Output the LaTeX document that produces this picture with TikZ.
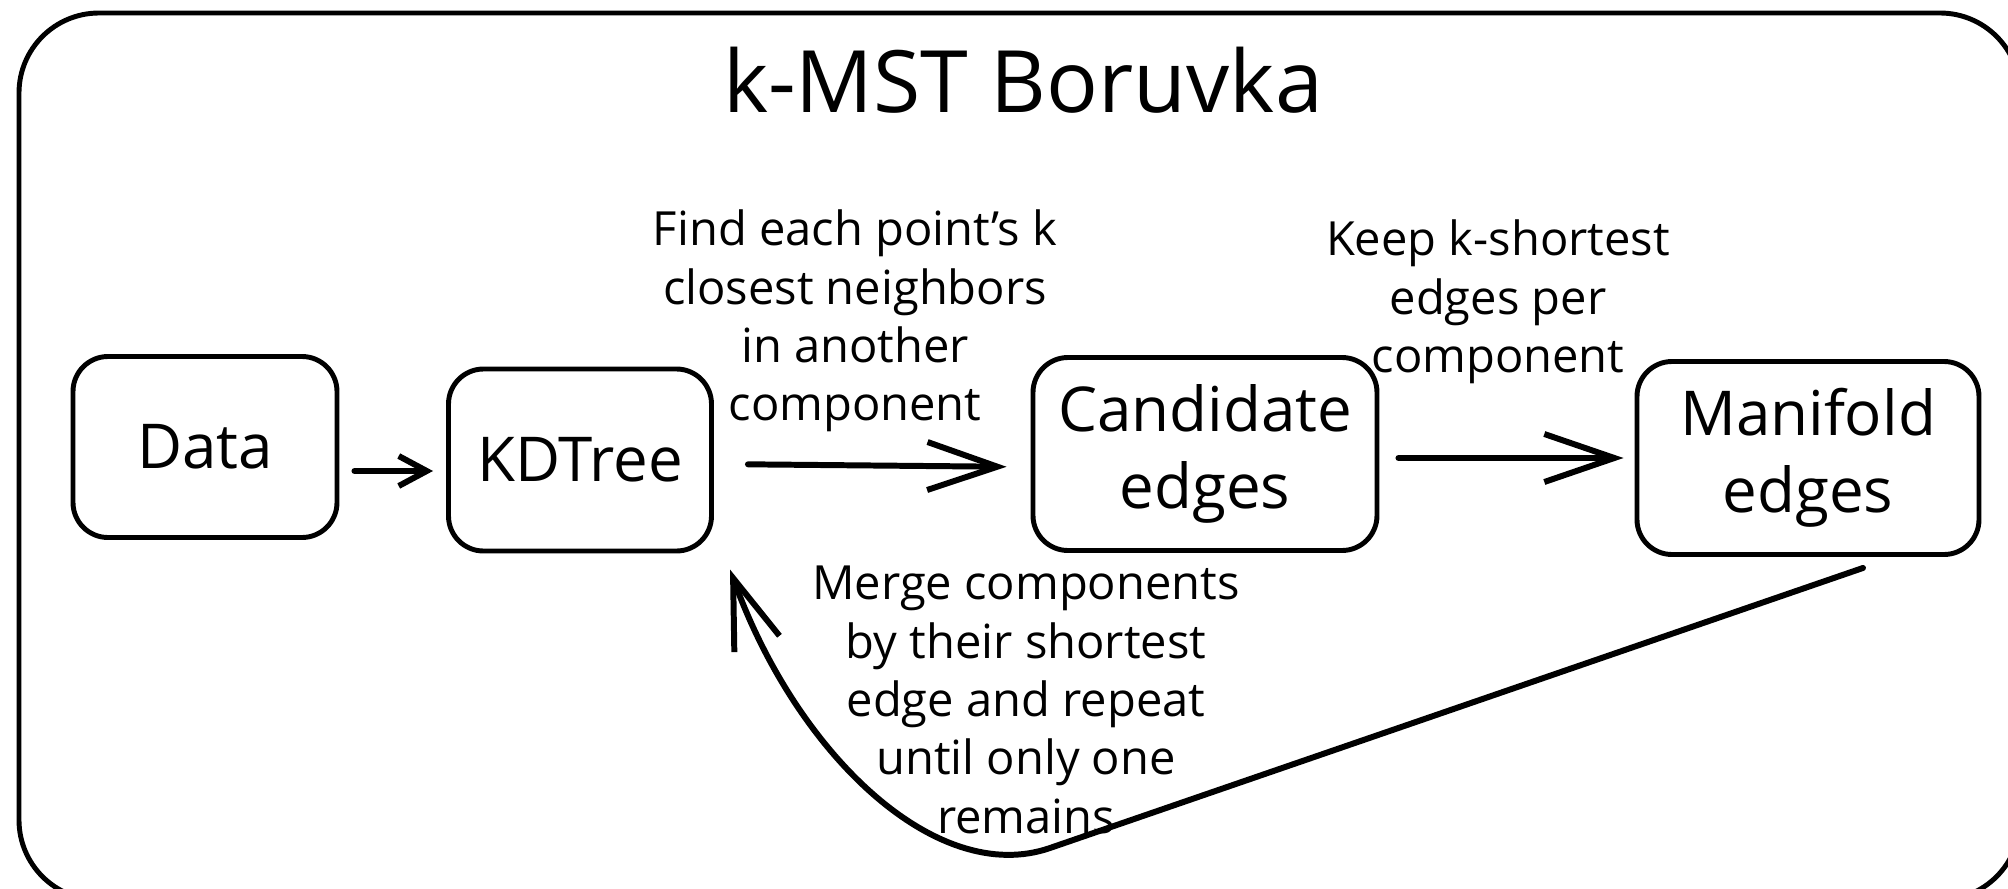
\documentclass[tikz,border=0pt]{standalone}
\usepackage{fontspec}
\setmainfont{Open Sans}
\usetikzlibrary{arrows.meta, positioning}

\begin{document}
\begin{tikzpicture}[
    blk/.style={draw, line width=1.4pt, rounded corners=0.35cm, align=center, font=\fontsize{17.6}{21.9}\selectfont},
    lbl/.style={align=center, font=\fontsize{13.4}{16.6}\selectfont},
    arr/.style={line width=1.7pt, line cap=round, -{Straight Barb[length=0.7cm,width=0.48cm]}},
    ]
    \useasboundingbox (0,0) rectangle (20.08,-8.89);
    \draw[line width=1.4pt, rounded corners=0.8cm] (0.19,-0.13) rectangle (20.2,-9.0);
    \node[font=\fontsize{24.5}{29}\selectfont] (title) at (10.23,-0.80) {k-MST Boruvka};
    %
    \node[blk, minimum width=2.64cm, minimum height=1.81cm] (data) at (2.05,-4.47) {Data};
    \node[blk, minimum width=2.63cm, minimum height=1.82cm] (kdtree) at (5.80,-4.60) {KDTree};
    \node[blk, minimum width=3.44cm, minimum height=1.93cm] (cand) at (12.05,-4.54) {Candidate\\edges};
    \node[blk, minimum width=3.42cm, minimum height=1.93cm] (mani) at (18.08,-4.58) {Manifold\\edges};
    %
    \node[lbl] (findlbl) at (8.55,-3.21) {Find each point's k\\closest neighbors\\in another\\component};
    \node[lbl] (keeplbl) at (14.98,-3.02) {Keep k-shortest\\edges per\\component};
    \node[lbl] (mergelbl) at (10.26,-7.00) {Merge components\\by their shortest\\edge and repeat\\until only one\\remains};
    %
    \draw[arr, -{Straight Barb[length=0.28cm,width=0.3cm]}, shorten <=0.15cm, shorten >=0.13cm]
        ([yshift=-0.24cm]data.east) -- ([yshift=-0.11cm]kdtree.west);
    \draw[arr, shorten <=0.34cm, shorten >=0.24cm] ([yshift=-0.04cm]kdtree.east) -- ([yshift=-0.13cm]cand.west);
    \draw[arr, shorten <=0.19cm, shorten >=0.11cm] ([yshift=-0.04cm]cand.east) -- (mani.west);
    %
    \draw[arr] ([xshift=0.55cm,yshift=-0.11cm]mani.south) -- (10.5,-8.48)
        .. controls (9.37,-8.87) and (7.97,-7.55) .. ([xshift=1.5cm,yshift=-0.16cm]kdtree.south);
\end{tikzpicture}
\end{document}
